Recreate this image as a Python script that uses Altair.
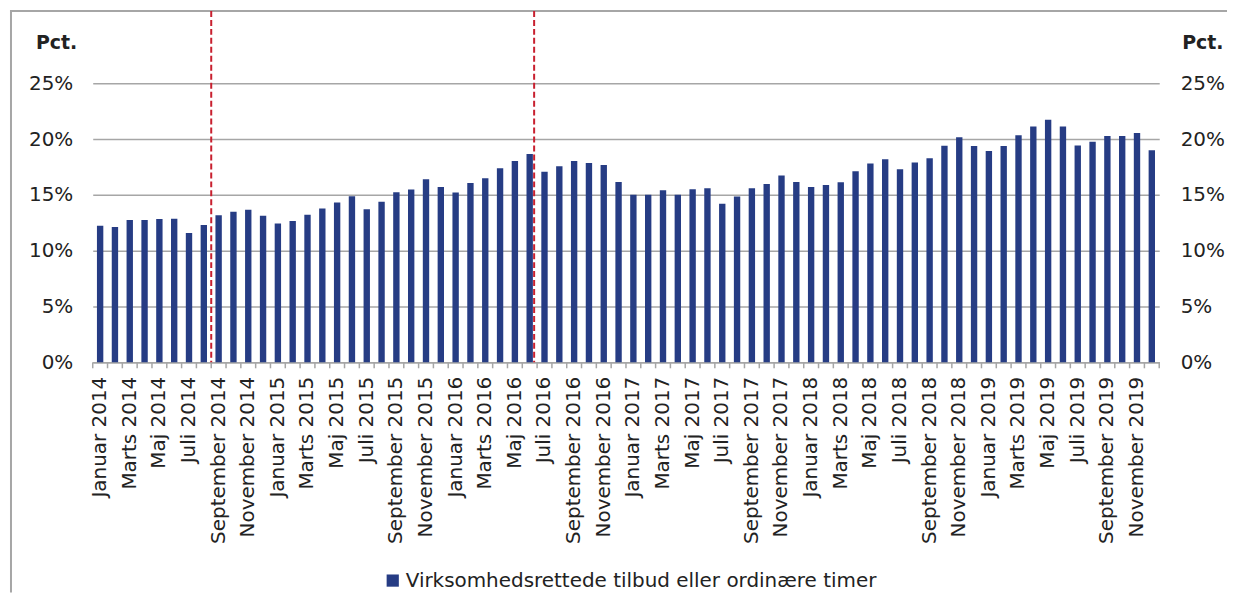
import altair as alt
import pandas as pd

month_names = ["Januar", "Februar", "Marts", "April", "Maj", "Juni", "Juli",
               "August", "September", "Oktober", "November", "December"]
years = [2014, 2015, 2016, 2017, 2018, 2019]
months = [f"{m} {y}" for y in years for m in month_names]

values = [12.23, 12.11, 12.74, 12.74, 12.83, 12.86, 11.58, 12.29, 13.18, 13.48, 13.66, 13.13,
          12.44, 12.65, 13.21, 13.78, 14.32, 14.88, 13.72, 14.38, 15.24, 15.48, 16.40, 15.71,
          15.21, 16.07, 16.49, 17.38, 18.04, 18.66, 17.08, 17.56, 18.04, 17.86, 17.68, 16.16,
          15.00, 15.00, 15.42, 15.00, 15.51, 15.60, 14.20, 14.85, 15.60, 15.98, 16.73, 16.16,
          15.71, 15.89, 16.13, 17.11, 17.80, 18.18, 17.29, 17.89, 18.27, 19.40, 20.15, 19.38,
          18.93, 19.38, 20.33, 21.13, 21.73, 21.13, 19.43, 19.76, 20.27, 20.27, 20.54, 18.99]

series_name = "Virksomhedsrettede tilbud eller ordinære timer"
tick_labels = months[::2]
y_ticks = [0, 5, 10, 15, 20, 25]
event_a = ["August 2014"]
event_b = ["Juni 2016"]

df = pd.DataFrame({"month": months, "value": values, "series": series_name})

W, H = 1070, 280
PAD = {"left": 85, "top": 74.5, "right": 68, "bottom": 232}
FONT = "DejaVu Sans"
GRAY = "#a6a6a6"
TXT = "#222222"

xscale = alt.Scale(domain=months, paddingInner=0, paddingOuter=0)
yscale = alt.Scale(domain=[0, 25], nice=False, zero=True)

x_axis = alt.Axis(values=tick_labels, labelAngle=-90, labelAlign="right",
                  labelBaseline="middle", labelFontSize=20, labelFont=FONT,
                  labelColor=TXT, labelPadding=14, ticks=False, tickSize=0,
                  labelOverlap=False, labelLimit=400, grid=False,
                  domain=True, domainColor=GRAY, domainWidth=1.5, title=None)


def xenc(band=0.5):
    return alt.X("month:N", sort=months, scale=xscale, axis=x_axis, bandPosition=band)


bars = alt.Chart(df).mark_bar(width=alt.RelativeBandSize(0.43), color="#263c84").encode(
    x=alt.X("month:N", sort=months, scale=xscale, axis=x_axis),
    y=alt.Y("value:Q", scale=yscale,
            axis=alt.Axis(orient="left", values=y_ticks, labelExpr="datum.value + '%'",
                          labelFontSize=20, labelFont=FONT, labelColor=TXT, labelPadding=20,
                          ticks=False, tickSize=0, domain=False, grid=True,
                          gridColor=GRAY, gridWidth=1.5,
                          title="Pct.", titleAngle=0, titleAlign="right",
                          titleBaseline="middle", titleX=-16, titleY=-40.5,
                          titleFont=FONT, titleFontSize=19, titleFontWeight="bold",
                          titleColor=TXT)),
    color=alt.Color("series:N", scale=alt.Scale(range=["#263c84"]),
                    legend=alt.Legend(title=None, orient="none", legendX=291, legendY=489,
                                      symbolType="square", symbolSize=150,
                                      symbolStrokeWidth=0, labelFontSize=20,
                                      labelFont=FONT, labelColor=TXT, labelOffset=3,
                                      padding=0, labelLimit=800)),
)

right_axis = alt.Chart(df).mark_bar(opacity=0).encode(
    x=alt.X("month:N", sort=months, scale=xscale, axis=x_axis),
    y=alt.Y("value:Q", scale=yscale,
            axis=alt.Axis(orient="right", values=y_ticks, labelExpr="datum.value + '%'",
                          labelFontSize=20, labelFont=FONT, labelColor=TXT, labelPadding=21,
                          ticks=False, tickSize=0, domain=False, grid=False,
                          title="Pct.", titleAngle=0, titleAlign="right",
                          titleBaseline="middle", titleX=64, titleY=-40.5,
                          titleFont=FONT, titleFontSize=19, titleFontWeight="bold",
                          titleColor=TXT)),
)

ticks = alt.Chart(df).mark_rule(color=GRAY, strokeWidth=1.5).encode(
    x=xenc(0), y=alt.value(H), y2=alt.value(H + 6),
)
end_tick = alt.Chart(df.tail(1)).mark_rule(color=GRAY, strokeWidth=1.5).encode(
    x=xenc(1), y=alt.value(H), y2=alt.value(H + 6),
)

dash_a = alt.Chart(pd.DataFrame({"month": event_a})).mark_rule(
    color="#c8202f", strokeWidth=2, strokeDash=[6, 3]).encode(
    x=xenc(1), y=alt.value(-72.5), y2=alt.value(H),
)
dash_b = alt.Chart(pd.DataFrame({"month": event_b})).mark_rule(
    color="#c8202f", strokeWidth=2, strokeDash=[6, 3]).encode(
    x=xenc(0.8), y=alt.value(-72.5), y2=alt.value(H),
)

one = pd.DataFrame({"k": [0]})
frame_top = alt.Chart(one).mark_rect(color=GRAY, strokeWidth=0).encode(
    x=alt.value(-83), x2=alt.value(W + PAD["right"]),
    y=alt.value(-73.5), y2=alt.value(-71.5),
)
frame_left = alt.Chart(one).mark_rule(color=GRAY, strokeWidth=2).encode(
    x=alt.value(-82), y=alt.value(-73.5), y2=alt.value(H + PAD["bottom"] - 1),
)

chart = alt.layer(frame_top, frame_left, bars, right_axis, ticks, end_tick,
                  dash_a, dash_b).resolve_scale(
    y="independent"
).properties(
    width=W, height=H,
    autosize=alt.AutoSizeParams(type="none"),
    padding=PAD,
    background="white",
).configure_view(stroke=None)

chart.save("out.html", embed_options={"renderer": "svg", "actions": False})
